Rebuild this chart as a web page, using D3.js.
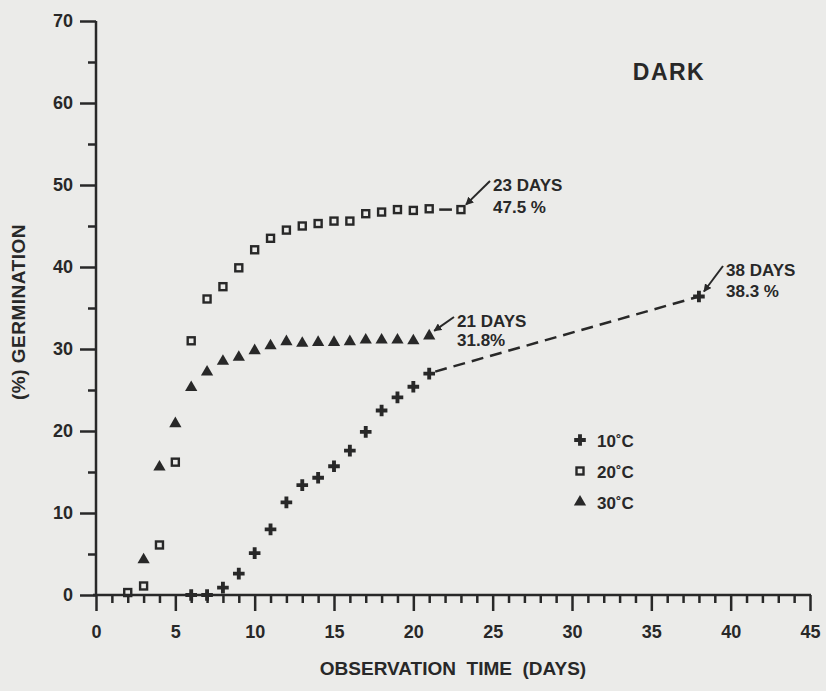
<!DOCTYPE html>
<html>
<head>
<meta charset="utf-8">
<script src="https://cdn.jsdelivr.net/npm/d3@7"></script>
<style>
  body { margin: 0; background: #ebebe9; }
  svg { display: block; }
  text { font-family: "Liberation Sans", Arial, sans-serif; font-weight: bold; fill: #282828; }
</style>
</head>
<body>
<svg id="chart"></svg>
<script>
// chart size
const width = 826;
const height = 691;

// data (days, % germination)
const days10 = [6, 7, 8, 9, 10, 11, 12, 13, 14, 15, 16, 17, 18, 19, 20, 21];
const germ10 = [0, 0, 0.9, 2.6, 5.1, 8.0, 11.3, 13.4, 14.3, 15.7, 17.6, 19.9, 22.5, 24.1, 25.4, 27.0];
const end10 = [38, 36.4];

const days20 = [2, 3, 4, 5, 6, 7, 8, 9, 10, 11, 12, 13, 14, 15, 16, 17, 18, 19, 20, 21, 23];
const germ20 = [0.3, 1.1, 6.1, 16.2, 31.0, 36.1, 37.6, 39.9, 42.1, 43.5, 44.5, 45.0, 45.3, 45.6, 45.6, 46.5, 46.7, 47.0, 46.9, 47.1, 47.0];

const days30 = [3, 4, 5, 6, 7, 8, 9, 10, 11, 12, 13, 14, 15, 16, 17, 18, 19, 20, 21];
const germ30 = [4.3, 15.6, 20.9, 25.3, 27.2, 28.5, 29.0, 29.8, 30.4, 30.9, 30.7, 30.8, 30.8, 30.9, 31.1, 31.1, 31.1, 31.0, 31.6];

const xMajor = [0, 5, 10, 15, 20, 25, 30, 35, 40, 45];
const yMajor = [0, 10, 20, 30, 40, 50, 60, 70];

const legendLabels = ["10˚C", "20˚C", "30˚C"];

const ink = "#282828";

const svg = d3.select("#chart")
    .attr("width", width)
    .attr("height", height);

const x = d3.scaleLinear().domain([0, 45]).range([96, 810]);
const y = d3.scaleLinear().domain([0, 70]).range([595, 21]);

function styleLabels(g) {
    g.selectAll("text")
        .attr("font-size", 18)
        .attr("fill", ink)
        .style("font-family", "Liberation Sans, Arial, sans-serif")
        .style("font-weight", "bold");
}

// y axis: major ticks with labels, minor ticks between
svg.append("g")
    .attr("transform", "translate(" + x(0) + ",0)")
    .call(d3.axisLeft(y).tickValues(yMajor).tickSize(16).tickPadding(7).tickFormat(d3.format("d")))
    .call(g => g.select(".domain").remove())
    .call(g => g.selectAll("line").attr("stroke", ink).attr("stroke-width", 2.5))
    .call(styleLabels);

svg.append("g")
    .attr("transform", "translate(" + x(0) + ",0)")
    .call(d3.axisLeft(y).tickValues(d3.range(5, 70, 10)).tickSize(8).tickFormat(""))
    .call(g => g.select(".domain").remove())
    .call(g => g.selectAll("line").attr("stroke", ink).attr("stroke-width", 2.5));

// x axis
svg.append("g")
    .attr("transform", "translate(0," + y(0) + ")")
    .call(d3.axisBottom(x).tickValues(xMajor).tickSize(16).tickPadding(14).tickFormat(d3.format("d")))
    .call(g => g.select(".domain").remove())
    .call(g => g.selectAll("line").attr("stroke", ink).attr("stroke-width", 2.5))
    .call(styleLabels);

svg.append("g")
    .attr("transform", "translate(0," + y(0) + ")")
    .call(d3.axisBottom(x).tickValues(d3.range(1, 45).filter(d => d % 5 !== 0)).tickSize(8).tickFormat(""))
    .call(g => g.select(".domain").remove())
    .call(g => g.selectAll("line").attr("stroke", ink).attr("stroke-width", 2.5));

// axis lines
svg.append("line")
    .attr("x1", x(0)).attr("x2", x(0))
    .attr("y1", y(70)).attr("y2", y(0))
    .attr("stroke", ink).attr("stroke-width", 2.5);
svg.append("line")
    .attr("x1", x(0) - 3).attr("x2", x(45) + 1)
    .attr("y1", y(0)).attr("y2", y(0))
    .attr("stroke", ink).attr("stroke-width", 2.5);

// axis titles
svg.append("text")
    .attr("x", 453).attr("y", 675)
    .attr("text-anchor", "middle")
    .attr("font-size", 19)
    .style("white-space", "pre")
    .text("OBSERVATION  TIME  (DAYS)");

svg.append("text")
    .attr("transform", "translate(25,312) rotate(-90)")
    .attr("text-anchor", "middle")
    .attr("font-size", 19)
    .attr("letter-spacing", 0.5)
    .text("(%) GERMINATION");

svg.append("text")
    .attr("x", 669).attr("y", 80)
    .attr("text-anchor", "middle")
    .attr("font-size", 23)
    .attr("letter-spacing", 1.5)
    .text("DARK");

// markers
const cross = d3.symbol().type(d3.symbolCross).size(75);
const tri = d3.symbol().type(d3.symbolTriangle).size(65);

function drawCross(g, cx, cy) {
    g.append("path")
        .attr("d", cross())
        .attr("transform", "translate(" + cx + "," + cy + ")")
        .attr("fill", ink);
}
function drawSquare(g, cx, cy) {
    g.append("rect")
        .attr("x", cx - 3.5).attr("y", cy - 3.5)
        .attr("width", 7).attr("height", 7)
        .attr("fill", "none")
        .attr("stroke", ink)
        .attr("stroke-width", 2.4);
}
function drawTri(g, cx, cy) {
    g.append("path")
        .attr("d", tri())
        .attr("transform", "translate(" + cx + "," + cy + ")")
        .attr("fill", ink);
}

const marks = svg.append("g");

// 10 C dashed extension to 38 days
marks.append("line")
    .attr("x1", x(days10[days10.length - 1]) + 6).attr("y1", y(germ10[germ10.length - 1]) - 2)
    .attr("x2", x(end10[0])).attr("y2", y(end10[1]))
    .attr("stroke", ink).attr("stroke-width", 2.5)
    .attr("stroke-dasharray", "12,7");

// 20 C short connector between day 21 and 23
marks.append("line")
    .attr("x1", x(21) + 10).attr("y1", y(47.0))
    .attr("x2", x(23) - 9).attr("y2", y(47.0))
    .attr("stroke", ink).attr("stroke-width", 2.5);

days10.forEach((d, i) => drawCross(marks, x(d), y(germ10[i])));
drawCross(marks, x(end10[0]), y(end10[1]));
days20.forEach((d, i) => drawSquare(marks, x(d), y(germ20[i])));
days30.forEach((d, i) => drawTri(marks, x(d), y(germ30[i])));

// annotations with little arrows
const notes = [
    { px: 23, py: 47.0, lines: ["23 DAYS", "47.5 %"], tx: 493, ty: 191, dy: 22 },
    { px: 21, py: 31.6, lines: ["21 DAYS", "31.8%"], tx: 457, ty: 327, dy: 19 },
    { px: end10[0], py: end10[1], lines: ["38 DAYS", "38.3 %"], tx: 726, ty: 276, dy: 21 }
];

svg.append("defs").append("marker")
    .attr("id", "arr")
    .attr("viewBox", "0 0 10 10")
    .attr("refX", 9).attr("refY", 5)
    .attr("markerWidth", 4).attr("markerHeight", 4)
    .attr("orient", "auto")
    .append("path")
    .attr("d", "M0,0L10,5L0,10z")
    .attr("fill", ink);

notes.forEach(n => {
    const ax = x(n.px), ay = y(n.py);
    svg.append("line")
        .attr("x1", n.tx - 3).attr("y1", n.ty - 10)
        .attr("x2", ax + 5).attr("y2", ay - 5)
        .attr("stroke", ink).attr("stroke-width", 2)
        .attr("marker-end", "url(#arr)");
    svg.append("text")
        .attr("x", n.tx).attr("y", n.ty)
        .attr("font-size", 17)
        .selectAll("tspan")
        .data(n.lines)
        .enter()
        .append("tspan")
        .attr("x", n.tx)
        .attr("dy", (d, i) => i === 0 ? 0 : n.dy)
        .text(d => d);
});

// legend
const legend = svg.append("g");
legendLabels.forEach((lab, i) => {
    const ly = 440 + i * 31;
    if (i === 0) drawCross(legend, 580, ly);
    if (i === 1) drawSquare(legend, 580, ly);
    if (i === 2) drawTri(legend, 580, ly);
    legend.append("text")
        .attr("x", 597).attr("y", ly + 7)
        .attr("font-size", 17)
        .text(lab);
});
</script>
</body>
</html>
